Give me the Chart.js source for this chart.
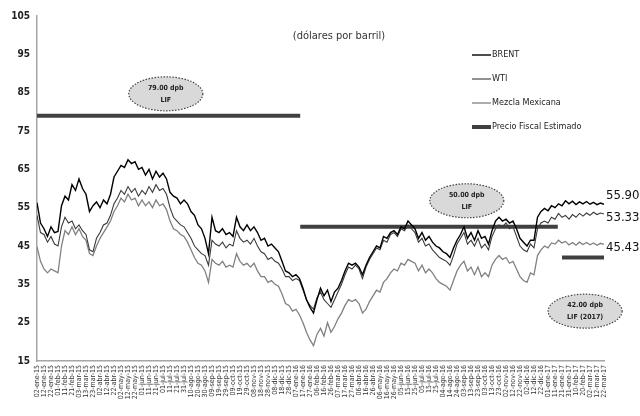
<!DOCTYPE html>
<html>
<head>
<meta charset="utf-8">
<script src="https://cdn.jsdelivr.net/npm/chart.js@4.4.1/dist/chart.umd.min.js"></script>
<style>
  html, body { margin: 0; padding: 0; background: #fff; }
  #wrap { width: 640px; height: 416px; }
</style>
</head>
<body>
<div id="wrap"><canvas id="grafica"></canvas></div>
<script>
// Etiquetas del eje x (cada 10 dias)
const fechas = [
  '02-ene-15','12-ene-15','22-ene-15','01-feb-15','11-feb-15','21-feb-15','03-mar-15','13-mar-15','23-mar-15',
  '02-abr-15','12-abr-15','22-abr-15','02-may-15','12-may-15','22-may-15','01-jun-15','11-jun-15','21-jun-15',
  '01-jul-15','11-jul-15','21-jul-15','31-jul-15','10-ago-15','20-ago-15','30-ago-15','09-sep-15','19-sep-15',
  '29-sep-15','09-oct-15','19-oct-15','29-oct-15','08-nov-15','18-nov-15','28-nov-15','08-dic-15','18-dic-15',
  '28-dic-15','07-ene-16','17-ene-16','27-ene-16','06-feb-16','16-feb-16','26-feb-16','07-mar-16','17-mar-16',
  '27-mar-16','06-abr-16','16-abr-16','26-abr-16','06-may-16','16-may-16','26-may-16','05-jun-16','15-jun-16',
  '25-jun-16','05-jul-16','15-jul-16','25-jul-16','04-ago-16','14-ago-16','24-ago-16','03-sep-16','13-sep-16',
  '23-sep-16','03-oct-16','13-oct-16','23-oct-16','02-nov-16','12-nov-16','22-nov-16','02-dic-16','12-dic-16',
  '22-dic-16','01-ene-17','11-ene-17','21-ene-17','31-ene-17','10-feb-17','20-feb-17','02-mar-17','12-mar-17',
  '22-mar-17'
];

// Precios (dos lecturas por cada etiqueta)
const brent = [
  56.3,51,49.5,47.5,50,48.5,48.8,55.5,58,57,61,59.5,62.5,60,58.5,54,55.5,56.5,55,57,
  56,58.5,63,64.5,66,65.5,67.5,66.5,67,65,65.5,63.5,65,62.5,64.5,63,64,62.5,59,58,
  57.5,56,57,56,54,53,50.5,49.5,47,43,52.5,49,48.5,49.5,48,48.5,47.5,52.5,50,49,
  50.5,49,50,48.5,46.5,47,45,45.5,44.5,43.5,41,38.5,38,37,37.5,36.5,34,31,29,27.5,
  31,34,32,33.5,30.5,33,34,36,38.5,40.5,40,40.5,39.5,37.5,40,42,43.5,45,44.5,47.5,
  47,48.5,49,48,50,49.5,51.5,50.5,49.5,47,48.5,46.5,47.5,46,45,44.5,43.5,43,42,44.5,
  46.5,48,50,47,48.5,46.5,49,47,47.5,45.5,49,51.5,52.5,51.5,52,51,51.5,49.5,47,46,
  45,46.5,46.5,52.5,54,54.8,54.2,55.5,55,56,55.5,56.8,56,56.7,55.8,56.5,56,56.6,55.9,56.4,
  55.8,56.2,55.9
];
const wti = [
  53,48.5,48,46,47.5,45.5,45,50,52.5,51,51.5,49.5,50.5,49,48,44,43.5,47,48.5,50.5,
  51,53,56,57.5,59.5,58.5,60.5,59,60,58,59.5,58.5,60.5,59,61,59.5,60,58.5,55,52.5,
  51.5,50.5,50,48.5,47,45,44,43,42.5,40,46.5,45.5,45,46,44.5,45.5,45,49,47,46,
  46.5,45.5,47,45,43.5,43,41.5,42,41,40.5,39,37,37,36,36.5,36,33.5,31,29.5,28.5,
  31.5,33,31,30,29,31,33,35,37.5,39.5,39,40,39,36.5,39.5,41.5,43,44.5,44,46.5,
  46,48,48.5,47.5,49.5,49,50.5,49.5,48.5,46,47,45,45.5,44,43,42,41.5,41,40,42.5,
  45.5,47,48.5,45.5,46.5,45,47,44.5,45.5,44,47.5,49.5,50.5,50,51,49.5,50,47.5,45,44,
  43.5,45.5,44.5,49.5,51,51.5,51,52.5,52,53.5,52.5,53,52,53.2,52.5,53.5,52.8,53.6,53,53.8,
  53.2,53.6,53.33
];
const mezcla = [
  44.8,41,39,38,39,38.5,38,45,49,48,50,48,49.5,47.5,46.5,43,42.5,45,47,48.5,
  50,51.5,54,55.5,57.5,56.5,58.5,57,57.5,55.5,57,55.5,56.5,55,57,55.5,56,54.5,51.5,49.5,
  49,48,47.5,46,44,42,40.5,40,38.5,35.5,41.5,40.5,40,41,39.5,40,39.5,43,41,40,
  40.5,39.5,40.5,38.5,37,37,35.5,36,35,34.5,32.5,30,29.5,28,28.5,27,25,22.5,20.5,19,
  22,23.5,21.5,25,22.5,24,26,27.5,29.5,31,30.5,31,30,27.5,28.5,30.5,32,33.5,33,35.5,
  36.5,38,39,38.5,40.5,40,41.5,41,40.5,38.5,40,38,39,38,36.5,35.5,35,34.5,33.5,36,
  38.5,40,41,38.5,39.5,37.5,39.5,37,38,37,40,41.5,42.5,41.5,42,40.5,41,39,37,36,
  35.5,38,37.5,42.5,44,45,44.5,45.8,45.5,46.5,45.8,46.2,45.3,45.9,45.2,46,45.4,45.9,45.3,45.8,
  45.2,45.7,45.43
];

// Precio fiscal estimado (LIF) y tramos en unidades de etiqueta
const precioFiscal = [79, 50, 42];
const tramosFiscal = [[0, 37.6], [37.6, 74.4], [75, 81]];
const notasFiscal = [['79.00 dpb', 'LIF'], ['50.00 dpb', 'LIF'], ['42.00 dpb', 'LIF (2017)']];
const posNotas = [[18.4, 84.7], [61.4, 56.8], [78.3, 28]];

const fuente = "'Liberation Sans Narrow', 'Arial Narrow', 'DejaVu Sans Condensed', sans-serif";

const aPuntos = serie => serie.map((v, i) => ({ x: i / 2, y: v }));

const datasets = [
  { label: 'BRENT', data: aPuntos(brent), borderColor: '#000000', borderWidth: 1.4 },
  { label: 'WTI', data: aPuntos(wti), borderColor: '#3a3a3a', borderWidth: 1.1 },
  { label: 'Mezcla Mexicana', data: aPuntos(mezcla), borderColor: '#808080', borderWidth: 1.3 }
];
precioFiscal.forEach((p, i) => {
  datasets.push({
    label: 'Precio Fiscal Estimado',
    enLeyenda: i === 0,
    data: tramosFiscal[i].map(xv => ({ x: xv, y: p })),
    borderColor: '#404040',
    borderWidth: 4
  });
});

const decoracion = {
  id: 'decoracion',
  afterDatasetsDraw(chart) {
    const { ctx, scales: { x, y } } = chart;
    ctx.save();

    // titulo
    ctx.fillStyle = '#333';
    ctx.font = '11px ' + fuente;
    ctx.textAlign = 'center';
    ctx.textBaseline = 'middle';
    ctx.fillText('(dólares por barril)', 339, 36);

    // leyenda
    let fila = 0;
    chart.data.datasets.forEach(ds => {
      if (ds.enLeyenda === false) return;
      const yy = 55 + fila * 24;
      ctx.beginPath();
      ctx.moveTo(472, yy);
      ctx.lineTo(491, yy);
      ctx.strokeStyle = ds.borderColor;
      ctx.lineWidth = ds.borderWidth;
      ctx.stroke();
      ctx.fillStyle = '#222';
      ctx.font = '9px ' + fuente;
      ctx.textAlign = 'left';
      ctx.fillText(ds.label, 492, yy);
      fila++;
    });

    // elipses con el precio fiscal
    posNotas.forEach((p, i) => {
      const cx = x.getPixelForValue(p[0]);
      const cy = y.getPixelForValue(p[1]);
      ctx.beginPath();
      ctx.ellipse(cx, cy, 37, 17, 0, 0, Math.PI * 2);
      ctx.fillStyle = '#d9d9d9';
      ctx.fill();
      ctx.setLineDash([1.5, 1.5]);
      ctx.strokeStyle = '#444';
      ctx.lineWidth = 1.2;
      ctx.stroke();
      ctx.setLineDash([]);
      ctx.fillStyle = '#222';
      ctx.font = 'bold 7px ' + fuente;
      ctx.textAlign = 'center';
      ctx.fillText(notasFiscal[i][0], cx, cy - 6);
      ctx.fillText(notasFiscal[i][1], cx, cy + 6);
    });

    // valores finales
    const finales = [[brent, -9], [wti, 4], [mezcla, 3]];
    ctx.font = '13px ' + fuente;
    ctx.textAlign = 'left';
    ctx.fillStyle = '#111';
    finales.forEach(([serie, dy]) => {
      const v = serie[serie.length - 1];
      ctx.fillText(v.toFixed(2), x.right + 2, y.getPixelForValue(v) + dy);
    });
    ctx.restore();
  }
};

new Chart(document.getElementById('grafica'), {
  type: 'line',
  data: { datasets },
  options: {
    responsive: true,
    maintainAspectRatio: false,
    animation: false,
    layout: { padding: { top: 16, right: 36, left: 0, bottom: 0 } },
    elements: { point: { radius: 0 }, line: { tension: 0 } },
    plugins: { legend: { display: false }, tooltip: { enabled: false }, title: { display: false } },
    scales: {
      x: {
        type: 'linear',
        min: 0,
        max: 81,
        grid: { display: false, drawTicks: false },
        border: { display: true, color: '#a6a6a6', width: 1.5 },
        afterFit: s => { s.height = 55; },
        ticks: {
          stepSize: 1,
          autoSkip: false,
          maxTicksLimit: 200,
          minRotation: 90,
          maxRotation: 90,
          padding: 4,
          color: '#333',
          font: { family: fuente, size: 7 },
          callback: v => fechas[v] ?? ''
        }
      },
      y: {
        min: 15,
        max: 105,
        grid: { display: false, drawTicks: false },
        border: { display: true, color: '#a6a6a6', width: 1.5 },
        afterFit: s => { s.width = 37; },
        ticks: {
          stepSize: 10,
          padding: 7,
          color: '#222',
          font: { family: fuente, size: 10, weight: 'bold' }
        }
      }
    }
  },
  plugins: [decoracion]
});
</script>
</body>
</html>
